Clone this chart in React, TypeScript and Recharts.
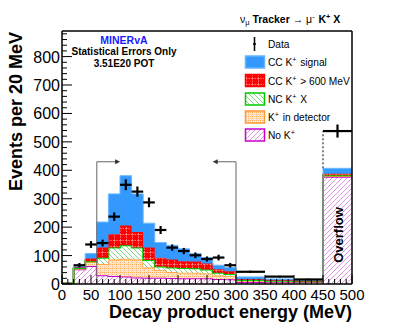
import { ComposedChart, Area, Scatter, ErrorBar, XAxis, YAxis, ReferenceLine, ReferenceDot } from 'recharts';

const FONT = '"Liberation Sans", Arial, Helvetica, sans-serif';

// bin edges (MeV); last bin 450-500 is the overflow
const binEdges = [0, 20, 40, 60, 80, 100, 120, 140, 160, 180, 200, 220, 240, 260, 280, 300, 350, 400, 450, 500];

// MC stack, events per 20 MeV, one value per bin
const noKaon = [2, 52, 63, 31, 28, 26, 23, 22, 22, 21, 20, 20, 20, 18, 17, 7, 6, 8, 377];
const kaonInDetector = [0, 2, 14, 39, 58, 63, 63, 36, 26, 21, 20, 20, 17, 12, 10, 4, 3, 1, 3];
const ncKaon = [0, 2, 3, 22, 42, 47, 42, 26, 14, 16, 16, 15, 14, 10, 8, 3, 2, 1, 3];
const ccKaonHigh = [0, 2, 10, 36, 47, 70, 55, 44, 30, 28, 24, 24, 21, 12, 10, 3, 2, 1, 5];
const ccSignal = [0, 4, 17, 90, 142, 175, 134, 86, 54, 50, 44, 28, 21, 14, 13, 8, 5, 2, 19];

// data points
const dataCenters = [30, 50, 70, 90, 110, 130, 150, 170, 190, 210, 230, 250, 270, 290, 325, 375, 425, 475];
const dataCounts = [66, 139, 144, 237, 349, 325, 287, 190, 128, 116, 101, 88, 93, 66, 43, 26, 16, 538];
const dataErrors = [8, 12, 12, 15, 19, 18, 17, 14, 11, 11, 10, 9, 10, 8, 4, 3, 3, 23];
const dataHalfWidths = [10, 10, 10, 10, 10, 10, 10, 10, 10, 10, 10, 10, 10, 10, 25, 25, 25, 25];

const xMajorTicks = [0, 50, 100, 150, 200, 250, 300, 350, 400, 450, 500];
const yMajorTicks = [0, 100, 200, 300, 400, 500, 600, 700, 800];
const Y_MAX = 890;

// selection cuts drawn as brackets
const cutLow = 60;
const cutHigh = 300;
const bracketTop = 430;
const arrowLen = 35;

const stackRows = binEdges.map((x, i) => {
  const j = Math.min(i, noKaon.length - 1);
  return {
    x,
    noK: noKaon[j],
    kDet: kaonInDetector[j],
    nc: ncKaon[j],
    ccHigh: ccKaonHigh[j],
    signal: ccSignal[j],
  };
});

const points = dataCenters.map((x, i) => ({ x, y: dataCounts[i], ey: dataErrors[i], ex: dataHalfWidths[i] }));

const last = noKaon.length - 1;
const overflowStack = noKaon[last] + kaonInDetector[last] + ncKaon[last] + ccKaonHigh[last] + ccSignal[last];
const overflowData = dataCounts[dataCounts.length - 1];

const xMinor: number[] = [];
for (let v = 0; v <= 500; v += 10) xMinor.push(v);
const yMinor: number[] = [];
for (let v = 0; v <= 880; v += 20) yMinor.push(v);

const XTick = (props: any) => {
  const { x, y, payload } = props;
  const major = xMajorTicks.includes(payload.value);
  return (
    <g>
      <line x1={x} x2={x} y1={y} y2={y - (major ? 9 : 5)} stroke="#000" />
      {major && (
        <text x={x} y={y + 16} textAnchor="middle" fontSize={15} fontFamily={FONT} fill="#000">
          {payload.value}
        </text>
      )}
    </g>
  );
};

const YTick = (props: any) => {
  const { x, y, payload } = props;
  const major = yMajorTicks.includes(payload.value);
  return (
    <g>
      <line x1={x} x2={x + (major ? 10 : 5)} y1={y} y2={y} stroke="#000" />
      {major && (
        <text x={x - 2} y={y + 6} textAnchor="end" fontSize={16} fontFamily={FONT} fill="#000">
          {payload.value}
        </text>
      )}
    </g>
  );
};

const Arrow = (dir: number) => (p: any) => (
  <polygon
    points={`${p.cx + 3 * dir},${p.cy} ${p.cx - 2 * dir},${p.cy - 2.5} ${p.cx - 2 * dir},${p.cy + 2.5}`}
    fill="#333"
  />
);

const Sup = ({ s }: { s: string }) => (
  <>
    <tspan dy={-4} fontSize="70%">{s}</tspan>
    <tspan dy={4}>{'\u200A'}</tspan>
  </>
);

const legendRows = [
  { cy: 62, fill: '#3399ff', stroke: '#66b3ff', label: <>CC K<Sup s="+" /> signal</> },
  { cy: 80.5, fill: 'url(#pRed)', stroke: '#ff0000', label: <>CC K<Sup s="+" /> &gt; 600 MeV</> },
  { cy: 99, fill: 'url(#pGreen)', stroke: '#00cc00', label: <>NC K<Sup s="+" /> X</> },
  { cy: 117, fill: 'url(#pOrange)', stroke: '#ff9933', label: <>K<Sup s="+" /> in detector</> },
  { cy: 135, fill: 'url(#pMagenta)', stroke: '#cc00cc', label: <>No K<Sup s="+" /></> },
];

const Patterns = () => (
  <defs>
    <pattern id="pRed" width="6" height="6" patternUnits="userSpaceOnUse">
      <rect width="6" height="6" fill="#ff0000" />
      <path d="M0.5 0 V6 M0 0.5 H6" stroke="#ff9a9a" strokeWidth="0.8" strokeDasharray="1.5 1" />
    </pattern>
    <pattern id="pGreen" width="5" height="5" patternUnits="userSpaceOnUse">
      <rect width="5" height="5" fill="#ffffff" />
      <path d="M0 0 L5 5 M-1 4 L1 6 M4 -1 L6 1" stroke="#6fd46f" strokeWidth="0.9" />
    </pattern>
    <pattern id="pOrange" width="4" height="4" patternUnits="userSpaceOnUse">
      <rect width="4" height="4" fill="#ffe3c6" />
      <path d="M0 0.5 H4 M0.5 0 V4" stroke="#ffa64d" strokeWidth="0.8" strokeDasharray="1 1" />
    </pattern>
    <pattern id="pMagenta" width="5" height="5" patternUnits="userSpaceOnUse">
      <rect width="5" height="5" fill="#ffffff" />
      <path d="M0 5 L5 0 M-1 1 L1 -1 M4 6 L6 4" stroke="#e08ae0" strokeWidth="0.9" />
    </pattern>
  </defs>
);

export default function App() {
  return (
    <div style={{ position: 'absolute', left: 0, top: 0, width: 415, height: 335, background: '#fff' }}>
      <ComposedChart width={415} height={335} data={stackRows} margin={{ top: 31, right: 63, bottom: 11, left: 2 }}>
        <Patterns />
        <XAxis
          dataKey="x"
          type="number"
          domain={[0, 500]}
          allowDataOverflow
          ticks={xMinor}
          interval={0}
          tick={<XTick />}
          tickLine={false}
          tickSize={0}
          tickMargin={0}
          height={40}
          axisLine={{ stroke: '#000', strokeWidth: 1.5 }}
        />
        <YAxis
          type="number"
          domain={[0, Y_MAX]}
          allowDataOverflow
          ticks={yMinor}
          interval={0}
          tick={<YTick />}
          tickLine={false}
          tickSize={0}
          tickMargin={0}
          width={60}
          axisLine={{ stroke: '#000', strokeWidth: 1.5 }}
        />
        <ReferenceLine segment={[{ x: cutLow, y: 0 }, { x: cutLow, y: bracketTop }]} stroke="#666" />
        <ReferenceLine segment={[{ x: cutLow, y: bracketTop }, { x: cutLow + arrowLen, y: bracketTop }]} stroke="#666" />
        <ReferenceLine segment={[{ x: cutHigh, y: 0 }, { x: cutHigh, y: bracketTop }]} stroke="#666" />
        <ReferenceLine segment={[{ x: cutHigh, y: bracketTop }, { x: cutHigh - arrowLen, y: bracketTop }]} stroke="#666" />
        <ReferenceDot x={cutLow + arrowLen} y={bracketTop} shape={Arrow(1)} />
        <ReferenceDot x={cutHigh - arrowLen} y={bracketTop} shape={Arrow(-1)} />
        <Area type="stepAfter" dataKey="noK" stackId="mc" fill="url(#pMagenta)" stroke="#cc00cc" strokeWidth={2} fillOpacity={1} isAnimationActive={false} />
        <Area type="stepAfter" dataKey="kDet" stackId="mc" fill="url(#pOrange)" stroke="#ff9933" strokeWidth={1.5} fillOpacity={1} isAnimationActive={false} />
        <Area type="stepAfter" dataKey="nc" stackId="mc" fill="url(#pGreen)" stroke="#00cc00" strokeWidth={2} fillOpacity={1} isAnimationActive={false} />
        <Area type="stepAfter" dataKey="ccHigh" stackId="mc" fill="url(#pRed)" stroke="#ff0000" strokeWidth={1} fillOpacity={1} isAnimationActive={false} />
        <Area type="stepAfter" dataKey="signal" stackId="mc" fill="#3399ff" stroke="#70b8ff" strokeWidth={1} fillOpacity={1} isAnimationActive={false} />
        <ReferenceLine
          segment={[{ x: 450, y: overflowStack }, { x: 450, y: overflowData }]}
          stroke="#000"
          strokeDasharray="2 2"
        />
        <ReferenceLine y={Y_MAX} stroke="#000" strokeWidth={1.5} />
        <ReferenceLine x={500} stroke="#000" strokeWidth={1.5} />
        <Scatter data={points} dataKey="y" shape={() => <g />} isAnimationActive={false}>
          <ErrorBar dataKey="ey" direction="y" width={0} stroke="#000" strokeWidth={2.2} />
          <ErrorBar dataKey="ex" direction="x" width={0} stroke="#000" strokeWidth={2.2} />
        </Scatter>
      </ComposedChart>

      <svg width={415} height={335} style={{ position: 'absolute', left: 0, top: 0, pointerEvents: 'none' }} fontFamily={FONT}>
        <Patterns />
        <text x={240} y={23} fontSize={10.5} fill="#000">
          ν<tspan dy={2} fontSize="70%">μ</tspan>
          <tspan dy={-2} fontWeight="bold"> Tracker </tspan>→ μ<Sup s="-" />
          <tspan fontWeight="bold"> K</tspan>
          <tspan dy={-4} fontSize="70%" fontWeight="bold">+</tspan>
          <tspan dy={4} fontWeight="bold"> X</tspan>
        </text>

        <text x={124} y={44} textAnchor="middle" fontSize={10.5} fontWeight="bold" fill="#1a1aff">MINERvA</text>
        <text x={124} y={55} textAnchor="middle" fontSize={10} fontWeight="bold" fill="#000">Statistical Errors Only</text>
        <text x={124} y={67} textAnchor="middle" fontSize={10} fontWeight="bold" fill="#000">3.51E20 POT</text>

        <line x1={254.5} x2={254.5} y1={37} y2={51} stroke="#000" strokeWidth={1.5} />
        <line x1={253} x2={256} y1={44} y2={44} stroke="#000" strokeWidth={1.5} />
        <text x={268} y={48} fontSize={10.2} fill="#000">Data</text>
        {legendRows.map((r, i) => (
          <g key={i}>
            <rect x={245.5} y={r.cy - 6} width={19} height={12} fill={r.fill} stroke={r.stroke} strokeWidth={1.5} />
            <text x={268} y={r.cy + 4} fontSize={10.2} fill="#000">{r.label}</text>
          </g>
        ))}

        <text transform="translate(343, 235) rotate(-90)" textAnchor="middle" fontSize={13} fontWeight="bold" fill="#000">
          Overflow
        </text>
        <text transform="translate(21.5, 32) rotate(-90)" textAnchor="end" fontSize={18} fontWeight="bold" fill="#000">
          Events per 20 MeV
        </text>
        <text x={352} y={318} textAnchor="end" fontSize={18} fontWeight="bold" fill="#000">
          Decay product energy (MeV)
        </text>
      </svg>
    </div>
  );
}
